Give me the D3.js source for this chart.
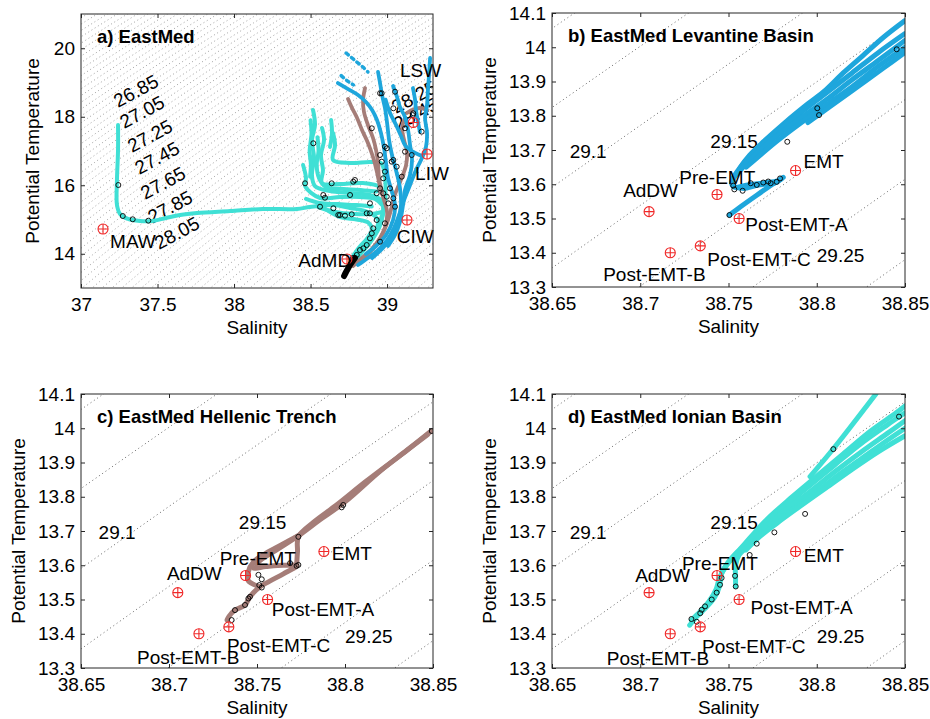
<!DOCTYPE html>
<html>
<head>
<meta charset="utf-8">
<script src="https://cdn.jsdelivr.net/npm/d3@7"></script>
<style>
  body { margin: 0; background: #fff; }
  svg text { font-family: Arial, "Liberation Sans", Helvetica, sans-serif; fill: #000; }
</style>
</head>
<body>
<script>
// ---------- Data: (salinity, potential temperature) pairs ----------

// Panel a: whole Eastern Mediterranean
const ionianA = [
  [[37.242,17.759],[37.242,17.029],[37.235,16.153],[37.235,15.423],[37.255,15.161],[37.307,15.015],[37.386,14.956],[37.464,14.956],[37.555,15.044],[37.647,15.131],[37.758,15.190],[37.974,15.248],[38.189,15.307],[38.411,15.307],[38.496,15.365],[38.647,15.423],[38.758,15.336],[38.875,15.219],[38.941,14.985],[38.928,14.693],[38.888,14.401],[38.836,14.109],[38.790,13.876],[38.751,13.642],[38.732,13.467]],
  [[38.516,18.197],[38.529,17.759],[38.509,17.321],[38.523,16.796],[38.509,16.299],[38.529,15.978],[38.627,15.832],[38.758,15.774],[38.888,15.715],[38.960,15.569],[38.975,15.277],[38.955,14.839],[38.910,14.460],[38.855,14.139],[38.800,13.876],[38.758,13.642]],
  [[38.575,17.672],[38.588,17.321],[38.568,16.883],[38.581,16.445],[38.575,16.066],[38.692,16.036],[38.836,16.066],[38.954,15.949],[38.975,15.715],[38.980,15.400],[38.960,15.000],[38.920,14.600],[38.870,14.250],[38.815,13.930],[38.771,13.672]],
  [[38.647,17.526],[38.660,17.175],[38.647,16.737],[38.758,16.650],[38.888,16.679],[38.960,16.650],[38.985,16.300],[38.990,15.860],[38.985,15.420],[38.960,14.985],[38.915,14.547],[38.860,14.200],[38.800,13.900]],
  [[38.451,16.591],[38.470,16.212],[38.464,15.978],[38.562,15.628],[38.692,15.657],[38.823,15.657],[38.921,15.599],[38.967,15.423]],
  [[38.549,15.365],[38.660,15.219],[38.790,15.161],[38.902,15.161],[38.967,15.219]],
  [[38.634,17.905],[38.640,17.526],[38.627,17.117]],
  [[38.500,17.900],[38.506,17.500],[38.494,17.000],[38.502,16.600],[38.497,16.250]],
  [[38.545,17.400],[38.552,17.000],[38.540,16.600],[38.556,16.200],[38.600,15.950],[38.700,15.900],[38.850,15.850],[38.930,15.820]],
  [[38.470,15.600],[38.560,15.480],[38.680,15.450],[38.800,15.420],[38.900,15.380]],
  [[38.600,15.300],[38.700,15.060],[38.800,15.000],[38.880,14.900],[38.900,14.700],[38.870,14.450],[38.820,14.200],[38.780,13.950]]
];
const levantineA = [
  [[38.679,18.985],[38.745,18.810],[38.810,18.635],[38.862,18.431],[38.902,18.197],[38.934,17.905],[38.960,17.526],[38.980,17.088],[38.993,16.650],[39.006,16.212],[39.032,15.803],[39.052,15.423],[39.039,14.985],[38.993,14.547],[38.928,14.226],[38.862,13.993]],
  [[38.941,19.307],[38.954,18.985],[38.967,18.635],[38.986,18.255],[39.000,17.818],[39.013,17.321],[39.032,16.883],[39.058,16.445],[39.084,15.920],[39.091,15.423],[39.071,14.927],[39.032,14.518],[38.973,14.168],[38.902,13.876]],
  [[39.039,18.898],[39.065,18.577],[39.084,18.285],[39.117,17.993],[39.137,17.613],[39.150,17.175],[39.163,16.737],[39.150,16.299],[39.117,15.861],[39.104,15.423],[39.084,14.927],[39.052,14.547],[39.006,14.226]],
  [[39.281,19.715],[39.274,19.219],[39.267,18.781],[39.261,18.343],[39.248,17.964],[39.261,17.526],[39.254,17.117],[39.228,16.796],[39.189,16.445],[39.150,16.007],[39.111,15.569],[39.078,15.131],[39.045,14.752],[39.000,14.401],[38.941,14.109],[38.875,13.876],[38.810,13.672]],
  [[39.169,18.839],[39.183,18.489],[39.189,18.197],[39.202,17.847],[39.215,17.555]],
  [[38.990,18.500],[39.020,18.100],[39.060,17.750],[39.090,17.450],[39.120,17.150],[39.180,16.950],[39.230,16.850]]
];
// sparse near-surface Levantine samples, drawn as separate dots
const levantineSparseA = [
  [[38.732,19.861],[38.771,19.715],[38.810,19.569],[38.849,19.423],[38.875,19.307]],
  [[38.700,19.200],[38.740,19.050],[38.780,18.930]]
];
const hellenicA = [
  [[38.745,18.518],[38.771,18.255],[38.804,17.964],[38.836,17.613],[38.875,17.234],[38.908,16.825],[38.934,16.387],[38.954,15.949],[38.980,15.569],[39.000,15.219],[38.990,14.810],[38.955,14.460],[38.900,14.139],[38.836,13.876],[38.777,13.642]],
  [[38.856,18.839],[38.843,18.489],[38.849,18.139],[38.875,17.759],[38.908,17.380],[38.928,17.029],[38.941,16.650],[38.947,16.212],[38.967,15.800]],
  [[39.130,18.109],[39.163,18.197],[39.215,18.255],[39.261,18.197]],
  [[39.117,17.964],[39.098,17.672],[39.111,17.321],[39.130,16.971],[39.124,16.591],[39.090,16.153],[39.050,15.715],[39.025,15.277],[38.995,14.839],[38.955,14.460],[38.900,14.109],[38.836,13.847]]
];
const deepA = [[38.790,13.876],[38.758,13.672],[38.732,13.467],[38.719,13.350]];
const stationsA = [
  [38.464,16.057],[38.638,16.057],[38.790,16.153],[38.758,15.715],[38.583,15.715],[38.594,15.636],[38.562,15.374],[38.649,15.327],[38.681,15.131],[38.725,15.111],
  [38.769,15.152],[38.867,15.181],[38.888,15.181],[38.932,14.985],[38.986,14.889],[38.910,14.743],[38.900,14.597],[38.888,14.451],[38.954,14.352],[38.867,14.255],
  [38.845,14.159],[38.802,13.964],[38.954,15.911],[38.975,15.765],[38.998,15.666],[39.008,15.473],[39.019,15.911],[39.041,15.619],[39.052,15.374],[38.975,16.203],
  [38.986,16.396],[38.965,16.688],[38.954,16.883],[38.998,17.079],[39.041,16.737],[39.063,16.542],[39.096,16.250],[39.117,16.980],[39.161,16.883],[38.965,18.685],
  [39.052,18.731],[38.900,17.663],[39.171,18.101],[39.226,17.564],[39.117,17.663],[38.986,17.126],[38.954,18.685],[39.041,18.247],[39.168,18.051],[39.030,16.688],
  [38.518,17.225],[38.779,16.104],[38.692,15.131],[38.888,15.473],[38.932,15.765],[38.823,14.109],[38.777,13.876],
  [37.244,16.007],[37.273,15.102],[37.338,15.006],[37.440,14.965]
];
const markersA = [["MAW",37.144,14.723],["LSW",39.171,17.830],["LIW",39.261,16.912],["CIW",39.130,14.985],["AdMD",38.738,13.847]];
const namesA = [["MAW",37.190,14.168],["LSW",39.084,19.170],["LIW",39.183,16.153],["CIW",39.063,14.305],["AdMD",38.420,13.622]];
const isoLabelsA = [[26.85,37.359,18.752],[27.05,37.399,18.139],[27.25,37.451,17.438],[27.45,37.497,16.796],[27.65,37.536,16.066],[27.85,37.582,15.365],[28.05,37.627,14.606],[28.25,39.176,18.577],[28.45,39.189,18.080]];

// Panel b: Levantine Basin deep layer
const levantineB = [
  [[38.850,14.078],[38.838,14.030],[38.826,13.975],[38.815,13.925],[38.805,13.875],[38.795,13.835],[38.782,13.780],[38.770,13.725],[38.762,13.685],[38.756,13.645],[38.752,13.610],[38.753,13.592],[38.760,13.597],[38.770,13.604],[38.778,13.610],[38.781,13.620],[38.775,13.600],[38.766,13.568],[38.757,13.535],[38.7505,13.510]],
  [[38.850,14.040],[38.835,13.985],[38.820,13.925],[38.805,13.865],[38.790,13.805],[38.778,13.755],[38.768,13.710],[38.760,13.670],[38.755,13.635],[38.752,13.600],[38.758,13.588],[38.767,13.598],[38.776,13.603],[38.780,13.616]],
  [[38.850,14.020],[38.835,13.962],[38.820,13.905],[38.805,13.845],[38.790,13.790],[38.777,13.740],[38.767,13.695],[38.760,13.660],[38.755,13.630]],
  [[38.850,14.000],[38.835,13.945],[38.820,13.885],[38.805,13.830],[38.790,13.775],[38.778,13.728],[38.768,13.685],[38.760,13.650]],
  [[38.850,13.985],[38.838,13.940],[38.822,13.880],[38.807,13.825],[38.795,13.780]]
];
const stationsB = [[38.7527,13.596],[38.758,13.581],[38.7626,13.603],[38.766,13.598],[38.7697,13.605],[38.7725,13.608],[38.7739,13.603],[38.7773,13.607],[38.7792,13.617],[38.7833,13.724],[38.8003,13.822],[38.8013,13.802],[38.8453,13.994],[38.7505,13.510],[38.7533,13.585]];

// Panel c: Hellenic Trench deep layer
const hellenicC = [
  [[38.849,13.992],[38.835,13.935],[38.820,13.875],[38.800,13.785],[38.785,13.730],[38.774,13.688],[38.762,13.648],[38.752,13.615],[38.748,13.592],[38.755,13.596],[38.765,13.600],[38.7725,13.598],[38.765,13.575],[38.757,13.553],[38.7517,13.537],[38.746,13.508],[38.7432,13.484],[38.7375,13.469],[38.734,13.450],[38.733,13.440]],
  [[38.847,13.982],[38.830,13.915],[38.812,13.845],[38.795,13.775],[38.782,13.725],[38.7735,13.683],[38.773,13.640],[38.7725,13.600]],
  [[38.774,13.688],[38.764,13.660],[38.755,13.635],[38.748,13.610],[38.745,13.580],[38.745,13.555],[38.7517,13.537]]
];
const stationsC = [[38.8493,13.992],[38.799,13.776],[38.7981,13.769],[38.7735,13.683],[38.7688,13.606],[38.7725,13.598],[38.7735,13.601],[38.7508,13.572],[38.7527,13.559],[38.7513,13.542],[38.7527,13.535],[38.7451,13.503],[38.746,13.508],[38.7432,13.484],[38.7375,13.469],[38.7356,13.440]];

// Panel d: Ionian Basin deep layer
const ionianD = [
  [[38.8335,14.100],[38.8094,13.940],[38.7962,13.859]],
  [[38.850,14.065],[38.845,14.045],[38.830,13.990],[38.815,13.925],[38.800,13.860],[38.785,13.795],[38.772,13.735],[38.763,13.685],[38.757,13.650],[38.750,13.610],[38.746,13.575],[38.745,13.540],[38.742,13.505],[38.737,13.475],[38.732,13.450],[38.728,13.425]],
  [[38.850,14.045],[38.840,14.010],[38.825,13.955],[38.810,13.892],[38.795,13.828],[38.780,13.765],[38.770,13.718],[38.762,13.672],[38.755,13.637],[38.749,13.600],[38.745,13.565],[38.743,13.530],[38.739,13.495],[38.734,13.465],[38.729,13.440]],
  [[38.850,14.022],[38.840,13.985],[38.825,13.930],[38.810,13.872],[38.795,13.810],[38.780,13.752],[38.770,13.708]],
  [[38.850,14.000],[38.840,13.965],[38.825,13.910],[38.810,13.855],[38.795,13.795],[38.780,13.740],[38.770,13.700],[38.762,13.660],[38.756,13.630],[38.754,13.600],[38.754,13.565],[38.754,13.538]],
  [[38.850,13.978],[38.835,13.932],[38.820,13.880],[38.805,13.825],[38.790,13.770],[38.778,13.725],[38.768,13.685],[38.760,13.645]]
];
const stationsD = [[38.8466,14.034],[38.8094,13.939],[38.7934,13.750],[38.776,13.696],[38.766,13.663],[38.762,13.630],[38.7537,13.569],[38.7541,13.538],[38.7461,13.563],[38.7452,13.543],[38.7433,13.520],[38.7405,13.500],[38.7367,13.480],[38.7348,13.470],[38.734,13.460],[38.729,13.443],[38.732,13.435]];

// Deep-water reference points shared by panels b, c, d
const markersBCD = [["AdDW",38.705,13.52],["Pre-EMT",38.7435,13.57],["EMT",38.788,13.64],["Post-EMT-A",38.756,13.50],["Post-EMT-B",38.717,13.40],["Post-EMT-C",38.734,13.42]];
const namesB = [["AdDW",38.6903,13.563],["Pre-EMT",38.7221,13.601],["EMT",38.7925,13.647],["Post-EMT-A",38.7595,13.4635],["Post-EMT-C",38.7380,13.361],["Post-EMT-B",38.6790,13.3175]];
const namesC = [["AdDW",38.6988,13.557],["Pre-EMT",38.7289,13.601],["EMT",38.7925,13.615],["Post-EMT-A",38.7584,13.4527],["Post-EMT-C",38.7329,13.3476],["Post-EMT-B",38.6818,13.3108]];
const namesD = [["AdDW",38.6971,13.5502],["Pre-EMT",38.7236,13.586],["EMT",38.7926,13.6086],["Post-EMT-A",38.7624,13.4577],["Post-EMT-C",38.7350,13.343],["Post-EMT-B",38.6810,13.3088]];
const isoLabelsBCD = [[29.1,38.6600,13.677],[29.15,38.7397,13.706],[29.25,38.8000,13.373]];

const ticksA = { x: [37, 37.5, 38, 38.5, 39], y: [14, 16, 18, 20] };
const ticksBCD = { x: [38.65, 38.7, 38.75, 38.8, 38.85], y: [13.3, 13.4, 13.5, 13.6, 13.7, 13.8, 13.9, 14, 14.1] };

const colIonian = "#40e0d5";
const colLevantine = "#1ea6dc";
const colHellenic = "#a57d78";

// ---------- Seawater density (UNESCO EOS-80, surface pressure) ----------
function sigmaTheta(S, T) {
  const T2 = T * T, T3 = T2 * T, T4 = T3 * T, T5 = T4 * T;
  const rw = 999.842594 + 6.793952e-2 * T - 9.095290e-3 * T2 + 1.001685e-4 * T3 - 1.120083e-6 * T4 + 6.536332e-9 * T5;
  const A = 8.24493e-1 - 4.0899e-3 * T + 7.6438e-5 * T2 - 8.2467e-7 * T3 + 5.3875e-9 * T4;
  const B = -5.72466e-3 + 1.0227e-4 * T - 1.6546e-6 * T2;
  const C = 4.8314e-4;
  return rw + A * S + B * S * Math.sqrt(S) + C * S * S - 1000;
}
function salinityOn(level, T) {
  let lo = 20, hi = 45;
  for (let i = 0; i < 60; i++) {
    const mid = (lo + hi) / 2;
    if (sigmaTheta(mid, T) < level) lo = mid; else hi = mid;
  }
  return (lo + hi) / 2;
}

// ---------- Drawing ----------
const svg = d3.select("body").append("svg").attr("width", 930).attr("height", 719);
const fmt = d3.format("~g");

function drawPanel(cfg) {
  const [x0, y0, x1, y1] = cfg.box;
  const x = d3.scaleLinear().domain(cfg.xDom).range([x0, x1]);
  const y = d3.scaleLinear().domain(cfg.yDom).range([y1, y0]);
  const clipId = "clip-" + cfg.id;
  svg.append("clipPath").attr("id", clipId)
    .append("rect").attr("x", x0).attr("y", y0).attr("width", x1 - x0).attr("height", y1 - y0);

  const g = svg.append("g");
  const plot = g.append("g").attr("clip-path", `url(#${clipId})`);

  // isopycnals every 0.05 kg/m3
  const sMin = sigmaTheta(cfg.xDom[0], cfg.yDom[1]);
  const sMax = sigmaTheta(cfg.xDom[1], cfg.yDom[0]);
  const tSpan = cfg.yDom[1] - cfg.yDom[0];
  const temps = d3.range(0, 81).map(i => cfg.yDom[0] - 0.05 * tSpan + i * (1.1 * tSpan / 80));
  const iso = d3.line().x(d => x(d[0])).y(d => y(d[1]));
  for (let k = Math.ceil(sMin / 0.05); k <= Math.floor(sMax / 0.05); k++) {
    const level = Math.round(k * 5) / 100;
    const pts = temps.map(t => [salinityOn(level, t), t]);
    plot.append("path").attr("d", iso(pts))
      .attr("fill", "none").attr("stroke", cfg.isoColor).attr("stroke-width", cfg.isoWidth)
      .attr("stroke-dasharray", cfg.isoDash);
  }

  // isopycnal labels
  if (cfg.isoRotated) {
    plot.selectAll(null).data(cfg.isoLabels).join("text")
      .attr("transform", d => `translate(${x(d[1])},${y(d[2])}) rotate(-28)`)
      .attr("text-anchor", "middle").attr("dominant-baseline", "central")
      .attr("font-size", 19).text(d => fmt(d[0]));
  } else {
    plot.selectAll(null).data(cfg.isoLabels).join("text")
      .attr("x", d => x(d[1])).attr("y", d => y(d[2]))
      .attr("font-size", 19).text(d => fmt(d[0]));
  }

  // profiles
  const line = d3.line().x(d => x(d[0])).y(d => y(d[1])).curve(d3.curveCatmullRom.alpha(0.5));
  cfg.groups.forEach(grp => {
    plot.selectAll(null).data(grp.lines).join("path")
      .attr("d", line).attr("fill", "none").attr("stroke", grp.color)
      .attr("stroke-width", grp.width).attr("stroke-linecap", "round").attr("stroke-linejoin", "round")
      .attr("stroke-dasharray", grp.dash || null);
  });

  // station markers
  plot.selectAll(null).data(cfg.stations).join("circle")
    .attr("cx", d => x(d[0])).attr("cy", d => y(d[1])).attr("r", 2.5)
    .attr("fill", "none").attr("stroke", "#000").attr("stroke-width", 0.9);

  // water-mass reference points
  const mk = g.selectAll(null).data(cfg.markers).join("g")
    .attr("transform", d => `translate(${x(d[1])},${y(d[2])})`)
    .attr("stroke", "#f02828").attr("stroke-width", 1.1).attr("fill", "none");
  mk.append("circle").attr("r", 5);
  mk.append("path").attr("d", "M-5,0H5M0,-5V5");

  g.selectAll(null).data(cfg.names).join("text")
    .attr("x", d => x(d[1])).attr("y", d => y(d[2]))
    .attr("font-size", 19).text(d => d[0]);

  // frame and ticks
  g.append("rect").attr("x", x0).attr("y", y0).attr("width", x1 - x0).attr("height", y1 - y0)
    .attr("fill", "none").attr("stroke", "#262626").attr("stroke-width", 1);
  const tf = d3.format("~g");
  const axB = g.append("g").attr("transform", `translate(0,${y1})`)
    .call(d3.axisBottom(x).tickValues(cfg.ticks.x).tickSize(-4).tickPadding(10).tickFormat(tf));
  const axL = g.append("g").attr("transform", `translate(${x0},0)`)
    .call(d3.axisLeft(y).tickValues(cfg.ticks.y).tickSize(-4).tickPadding(6).tickFormat(tf));
  const axT = g.append("g").attr("transform", `translate(0,${y0})`)
    .call(d3.axisTop(x).tickValues(cfg.ticks.x).tickSize(-4).tickFormat(""));
  const axR = g.append("g").attr("transform", `translate(${x1},0)`)
    .call(d3.axisRight(y).tickValues(cfg.ticks.y).tickSize(-4).tickFormat(""));
  [axB, axL, axT, axR].forEach(a => {
    a.select(".domain").remove();
    a.selectAll("line").attr("stroke", "#262626");
    a.selectAll("text").attr("font-size", 19).attr("fill", "#000")
      .attr("font-family", "Arial, 'Liberation Sans', Helvetica, sans-serif");
  });

  // titles
  g.append("text").attr("x", x0 + 16).attr("y", y0 + 29)
    .attr("font-size", 18.5).attr("font-weight", "bold").text(cfg.title);
  g.append("text").attr("x", (x0 + x1) / 2).attr("y", y1 + 46)
    .attr("text-anchor", "middle").attr("font-size", 19).text("Salinity");
  g.append("text")
    .attr("transform", `translate(${x0 - cfg.yTitleGap},${(y0 + y1) / 2}) rotate(-90)`)
    .attr("text-anchor", "middle").attr("font-size", 19).text("Potential Temperature");
}

drawPanel({
  id: "a", box: [81, 14, 433, 288], xDom: [37, 39.3], yDom: [13, 21], ticks: ticksA,
  title: "a) EastMed", isoRotated: true, isoLabels: isoLabelsA, yTitleGap: 42,
  isoColor: "#a0a0a0", isoDash: "1 2.8", isoWidth: 1,
  groups: [
    { color: colIonian, width: 4, lines: ionianA },
    { color: colHellenic, width: 3.8, lines: hellenicA },
    { color: colLevantine, width: 3.8, lines: levantineA },
    { color: colLevantine, width: 3.5, lines: levantineSparseA, dash: "3 4" },
    { color: "#000", width: 6, lines: [deepA] }
  ],
  stations: stationsA, markers: markersA, names: namesA
});
drawPanel({
  id: "b", box: [552, 13, 905, 287], xDom: [38.65, 38.85], yDom: [13.3, 14.1], ticks: ticksBCD,
  title: "b) EastMed Levantine Basin", isoRotated: false, isoLabels: isoLabelsBCD, yTitleGap: 56,
  isoColor: "#666", isoDash: "1 3", isoWidth: 1,
  groups: [{ color: colLevantine, width: 5, lines: levantineB }],
  stations: stationsB, markers: markersBCD, names: namesB
});
drawPanel({
  id: "c", box: [81, 394, 433, 668], xDom: [38.65, 38.85], yDom: [13.3, 14.1], ticks: ticksBCD,
  title: "c) EastMed Hellenic Trench", isoRotated: false, isoLabels: isoLabelsBCD, yTitleGap: 56,
  isoColor: "#666", isoDash: "1 3", isoWidth: 1,
  groups: [{ color: colHellenic, width: 5, lines: hellenicC }],
  stations: stationsC, markers: markersBCD, names: namesC
});
drawPanel({
  id: "d", box: [552, 394, 905, 668], xDom: [38.65, 38.85], yDom: [13.3, 14.1], ticks: ticksBCD,
  title: "d) EastMed Ionian Basin", isoRotated: false, isoLabels: isoLabelsBCD, yTitleGap: 56,
  isoColor: "#666", isoDash: "1 3", isoWidth: 1,
  groups: [{ color: colIonian, width: 5, lines: ionianD }],
  stations: stationsD, markers: markersBCD, names: namesD
});
</script>
</body>
</html>
